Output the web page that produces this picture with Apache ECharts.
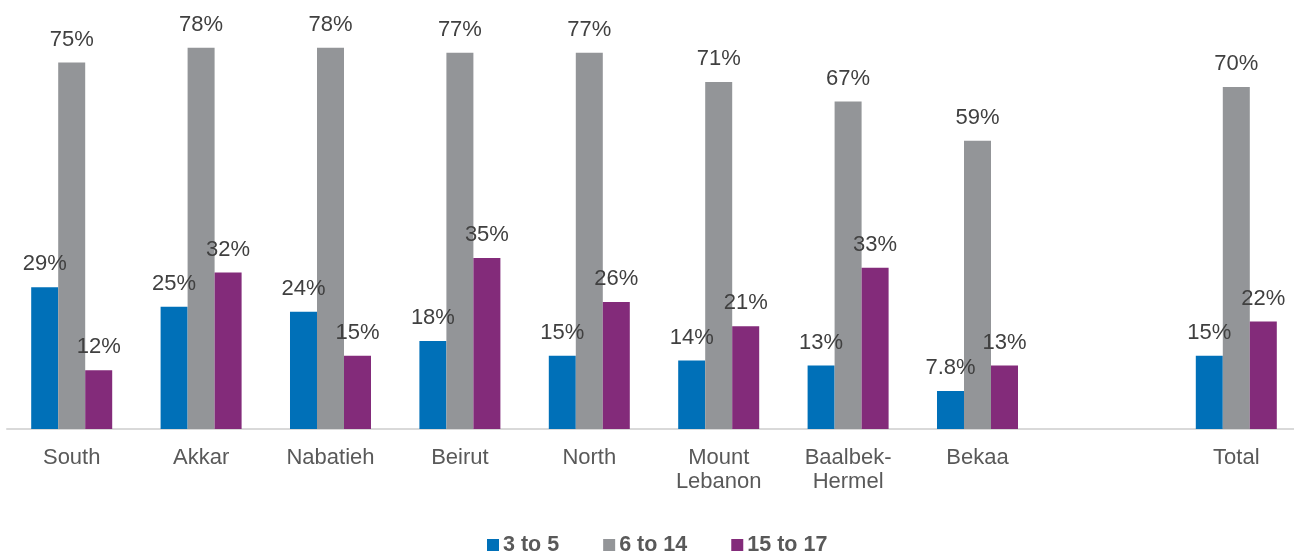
<!DOCTYPE html>
<html><head><meta charset="utf-8">
<script src="https://cdn.jsdelivr.net/npm/echarts@6/dist/echarts.min.js"></script>
<style>html,body{margin:0;padding:0;background:#fff}#c{width:1294px;height:553px}</style>
</head><body><div id="c"></div>
<script>
const categories = ['South','Akkar','Nabatieh','Beirut','North','Mount\nLebanon','Baalbek-\nHermel','Bekaa','','Total'];
const age3to5 = [29,25,24,18,15,14,13,7.8,null,15];
const age6to14 = [75,78,78,77,77,71,67,59,null,70];
const age15to17 = [12,32,15,35,26,21,33,13,null,22];
const seriesNames = ['3 to 5','6 to 14','15 to 17'];
const colors = ['#0070b8','#939598','#832b7a'];
const FONT = '"Liberation Sans", Arial, sans-serif';
const label = {show:true, position:'top', distance:12, fontFamily:FONT, fontSize:22, color:'#404040',
  formatter: p => p.value + '%'};
const chart = echarts.init(document.getElementById('c'), null, {renderer:'canvas'});
chart.setOption({
  animation:false,
  grid:{left:7, top:38, width:1294, height:391, containLabel:false, outerBoundsMode:'none'},
  legend:{top:534, left:487, padding:0, itemWidth:12, itemHeight:12, itemGap:44, icon:'rect',
    textStyle:{fontFamily:FONT, fontSize:21.5, fontWeight:'bold', color:'#595959', padding:[0,0,0,-1]}},
  xAxis:{type:'category', data:categories,
    axisLine:{lineStyle:{color:'#d9d9d9', width:2}}, axisTick:{show:false},
    axisLabel:{fontFamily:FONT, fontSize:22, color:'#595959', margin:17, lineHeight:24, interval:0}},
  yAxis:{type:'value', min:0, max:80, show:false, splitLine:{show:false}},
  series:[
    {name:seriesNames[0], type:'bar', data:age3to5, itemStyle:{color:colors[0]}, label, barGap:'0%', barCategoryGap:'37.4%'},
    {name:seriesNames[1], type:'bar', data:age6to14, itemStyle:{color:colors[1]}, label, barGap:'0%', barCategoryGap:'37.4%'},
    {name:seriesNames[2], type:'bar', data:age15to17, itemStyle:{color:colors[2]}, label, barGap:'0%', barCategoryGap:'37.4%'}
  ]
});
</script></body></html>
